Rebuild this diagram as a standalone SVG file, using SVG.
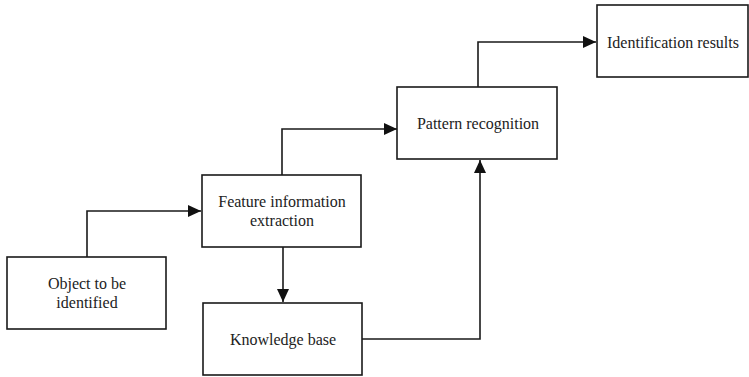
<svg xmlns="http://www.w3.org/2000/svg" width="749" height="377" viewBox="0 0 749 377">
<style>
.box{fill:#fff;stroke:#1a1a1a;stroke-width:1.6}
.lbl{font-family:"Liberation Serif","DejaVu Serif",serif;font-size:16px;fill:#222;text-anchor:middle}
.edge{fill:none;stroke:#1a1a1a;stroke-width:1.6}
</style>
<defs>
<marker id="ah" viewBox="0 0 13 12" refX="13" refY="6" markerWidth="13" markerHeight="12" markerUnits="userSpaceOnUse" orient="auto">
<path d="M0,0 L13,6 L0,12 Z" fill="#111"/>
</marker>
</defs>
<rect width="749" height="377" fill="#fff"/>
<g id="connectors">
<path class="edge" d="M87,257 V211 H201" marker-end="url(#ah)"/>
<path class="edge" d="M282,175 V129 H397" marker-end="url(#ah)"/>
<path class="edge" d="M283,247 V302" marker-end="url(#ah)"/>
<path class="edge" d="M362,339 H480 V160" marker-end="url(#ah)"/>
<path class="edge" d="M478,87 V42 H596" marker-end="url(#ah)"/>
</g>
<g id="object">
<rect class="box" x="7" y="257" width="159" height="72"/>
<text class="lbl" x="87" y="289">Object to be</text>
<text class="lbl" x="87" y="308">identified</text>
</g>
<g id="feature">
<rect class="box" x="202" y="175" width="159" height="72"/>
<text class="lbl" x="282" y="207">Feature information</text>
<text class="lbl" x="282" y="226">extraction</text>
</g>
<g id="knowledge">
<rect class="box" x="203" y="303" width="159" height="72"/>
<text class="lbl" x="283" y="345">Knowledge base</text>
</g>
<g id="pattern">
<rect class="box" x="397" y="87" width="160" height="72"/>
<text class="lbl" x="478" y="129">Pattern recognition</text>
</g>
<g id="results">
<rect class="box" x="597" y="5" width="151" height="72"/>
<text class="lbl" x="673" y="48">Identification results</text>
</g>
</svg>
